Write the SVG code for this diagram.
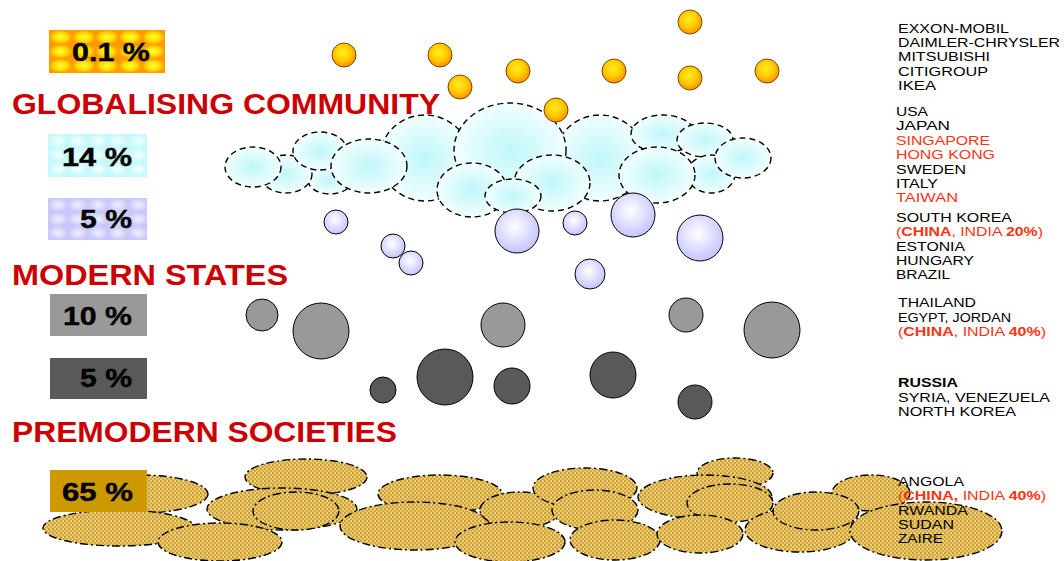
<svg xmlns="http://www.w3.org/2000/svg" width="1064" height="561" viewBox="0 0 1064 561">
<defs>
<radialGradient id="gCell"><stop offset="0" stop-color="#ffff33"/><stop offset="0.6" stop-color="#ffdd00"/><stop offset="1" stop-color="#ff9900"/></radialGradient>
<pattern id="pOrange" width="23.2" height="14.3" patternUnits="userSpaceOnUse" x="49" y="30"><rect width="23.2" height="14.3" fill="url(#gCell)"/></pattern>
<radialGradient id="gCyanCell"><stop offset="0" stop-color="#f4ffff"/><stop offset="1" stop-color="#c6f9fb"/></radialGradient>
<pattern id="pCyan" width="20" height="14" patternUnits="userSpaceOnUse" x="48" y="134"><rect width="20" height="14" fill="url(#gCyanCell)"/></pattern>
<radialGradient id="gLavCell"><stop offset="0" stop-color="#f0f0ff"/><stop offset="1" stop-color="#c8c8fb"/></radialGradient>
<pattern id="pLav" width="20" height="14" patternUnits="userSpaceOnUse" x="48" y="198"><rect width="20" height="14" fill="url(#gLavCell)"/></pattern>
<pattern id="pDots" width="4" height="4" patternUnits="userSpaceOnUse"><rect width="4" height="4" fill="#e6c66e"/><circle cx="1" cy="1" r="0.9" fill="#c08a10"/><circle cx="3" cy="3" r="0.9" fill="#cf9c22"/><circle cx="3" cy="1" r="0.55" fill="#fff3d0"/></pattern>
<radialGradient id="gGold" cx="0.45" cy="0.4" r="0.6"><stop offset="0" stop-color="#ffee22"/><stop offset="0.55" stop-color="#ffcc00"/><stop offset="1" stop-color="#ff9000"/></radialGradient>
<radialGradient id="gCloud"><stop offset="0" stop-color="#bff7fa"/><stop offset="1" stop-color="#f2fefe"/></radialGradient>
<radialGradient id="gLavBall" cx="0.45" cy="0.4" r="0.6"><stop offset="0" stop-color="#ffffff"/><stop offset="1" stop-color="#c4c4ff"/></radialGradient>
</defs>
<style>
.title{font-family:"Liberation Sans",Arial,sans-serif;font-weight:bold;font-size:29px;fill:#cc0000}
.pct{font-family:"Liberation Sans",Arial,sans-serif;font-weight:bold;font-size:25px;fill:#000;stroke:#000;stroke-width:0.4}
.lst{font-family:"Liberation Sans",Arial,sans-serif;font-size:13.5px;fill:#000}
.red{fill:#ff3311}
.b{font-weight:bold}
.gold{fill:url(#gGold);stroke:#7a4a00;stroke-width:1}
.cloud{fill:url(#gCloud);stroke:#000;stroke-width:1.4;stroke-dasharray:6 4}
.lav{fill:url(#gLavBall);stroke:#000;stroke-width:1}
.gray{fill:#999999;stroke:#000;stroke-width:1}
.dark{fill:#595959;stroke:#000;stroke-width:1}
.sand{fill:url(#pDots);stroke:#000;stroke-width:1.4;stroke-dasharray:8 3 2 3}
</style>

<g id="cloud">
<ellipse class="cloud" cx="425" cy="158" rx="45" ry="43"/>
<ellipse class="cloud" cx="600" cy="158" rx="45" ry="43"/>
<ellipse class="cloud" cx="510" cy="150" rx="56" ry="47"/>
<ellipse class="cloud" cx="663" cy="134" rx="32" ry="19"/>
<ellipse class="cloud" cx="705" cy="140" rx="28" ry="17"/>
<ellipse class="cloud" cx="711" cy="174" rx="24" ry="19"/>
<ellipse class="cloud" cx="743" cy="158" rx="28" ry="20"/>
<ellipse class="cloud" cx="657" cy="175" rx="38" ry="28"/>
<ellipse class="cloud" cx="552" cy="183" rx="38" ry="28"/>
<ellipse class="cloud" cx="472" cy="190" rx="35" ry="27"/>
<ellipse class="cloud" cx="513" cy="196" rx="28" ry="17"/>
<ellipse class="cloud" cx="330" cy="180" rx="22" ry="14"/>
<ellipse class="cloud" cx="286" cy="174" rx="26" ry="19"/>
<ellipse class="cloud" cx="253" cy="167" rx="28" ry="20"/>
<ellipse class="cloud" cx="320" cy="151" rx="27" ry="19"/>
<ellipse class="cloud" cx="369" cy="166" rx="38" ry="27"/>
</g>

<g id="sands">
<ellipse class="sand" cx="140" cy="494" rx="68" ry="19"/>
<ellipse class="sand" cx="119" cy="528" rx="76" ry="18"/>
<ellipse class="sand" cx="306" cy="477" rx="61" ry="18"/>
<ellipse class="sand" cx="282" cy="509" rx="75" ry="21"/>
<ellipse class="sand" cx="296" cy="511" rx="43" ry="19"/>
<ellipse class="sand" cx="220" cy="542" rx="62" ry="19"/>
<ellipse class="sand" cx="440" cy="494" rx="62" ry="19"/>
<ellipse class="sand" cx="415" cy="526" rx="75" ry="24"/>
<ellipse class="sand" cx="520" cy="510" rx="40" ry="18"/>
<ellipse class="sand" cx="510" cy="542" rx="55" ry="20"/>
<ellipse class="sand" cx="585" cy="488" rx="52" ry="20"/>
<ellipse class="sand" cx="595" cy="510" rx="43" ry="20"/>
<ellipse class="sand" cx="615" cy="540" rx="45" ry="20"/>
<ellipse class="sand" cx="735" cy="473" rx="38" ry="15"/>
<ellipse class="sand" cx="705" cy="497" rx="67" ry="22"/>
<ellipse class="sand" cx="730" cy="503" rx="43" ry="19"/>
<ellipse class="sand" cx="700" cy="534" rx="43" ry="19"/>
<ellipse class="sand" cx="871" cy="493" rx="39" ry="18"/>
<ellipse class="sand" cx="800" cy="530" rx="55" ry="22"/>
<ellipse class="sand" cx="816" cy="511" rx="43" ry="19"/>
<ellipse class="sand" cx="926" cy="531" rx="76" ry="29"/>
</g>

<g id="golds">
<circle class="gold" cx="344" cy="55" r="12"/>
<circle class="gold" cx="440" cy="55" r="12"/>
<circle class="gold" cx="518" cy="71" r="12"/>
<circle class="gold" cx="614" cy="71" r="12"/>
<circle class="gold" cx="690" cy="22" r="12"/>
<circle class="gold" cx="690" cy="78" r="12"/>
<circle class="gold" cx="767" cy="71" r="12"/>
<circle class="gold" cx="460" cy="87" r="12"/>
<circle class="gold" cx="556" cy="110" r="12"/>
</g>

<g id="lavenders">
<circle class="lav" cx="336" cy="222" r="12"/>
<circle class="lav" cx="393" cy="246" r="12"/>
<circle class="lav" cx="411" cy="263" r="12"/>
<circle class="lav" cx="517" cy="231" r="22"/>
<circle class="lav" cx="575" cy="223" r="12"/>
<circle class="lav" cx="633" cy="215" r="22"/>
<circle class="lav" cx="700" cy="238" r="23"/>
<circle class="lav" cx="590" cy="274" r="15"/>
</g>

<g id="grays">
<circle class="gray" cx="262" cy="315" r="16"/>
<circle class="gray" cx="321" cy="331" r="28"/>
<circle class="gray" cx="503" cy="325" r="22"/>
<circle class="gray" cx="686" cy="315" r="17"/>
<circle class="gray" cx="772" cy="330" r="28"/>
</g>

<g id="darks">
<circle class="dark" cx="383" cy="390" r="13"/>
<circle class="dark" cx="445" cy="377" r="28"/>
<circle class="dark" cx="512" cy="386" r="18"/>
<circle class="dark" cx="613" cy="375" r="23"/>
<circle class="dark" cx="695" cy="402" r="17"/>
</g>

<g id="titles">
<text class="title" x="12" y="114" textLength="428" lengthAdjust="spacingAndGlyphs">GLOBALISING COMMUNITY</text>
<text class="title" x="12" y="285" textLength="276" lengthAdjust="spacingAndGlyphs">MODERN STATES</text>
<text class="title" x="12" y="442" textLength="385" lengthAdjust="spacingAndGlyphs">PREMODERN SOCIETIES</text>
</g>

<g id="box-01">
<rect x="49" y="30" width="116" height="43" fill="url(#pOrange)"/>
<text class="pct" x="72" y="61" textLength="78" lengthAdjust="spacingAndGlyphs">0.1 %</text>
</g>
<g id="box-14">
<rect x="48" y="134" width="99" height="43" fill="url(#pCyan)"/>
<text class="pct" x="62" y="166" textLength="70" lengthAdjust="spacingAndGlyphs">14 %</text>
</g>
<g id="box-5a">
<rect x="48" y="198" width="99" height="42" fill="url(#pLav)"/>
<text class="pct" x="80" y="228" textLength="52" lengthAdjust="spacingAndGlyphs">5 %</text>
</g>
<g id="box-10">
<rect x="50" y="294" width="97" height="42" fill="#999999"/>
<text class="pct" x="63" y="325" textLength="69" lengthAdjust="spacingAndGlyphs">10 %</text>
</g>
<g id="box-5b">
<rect x="50" y="358" width="97" height="41" fill="#595959"/>
<text class="pct" x="80" y="387" textLength="52" lengthAdjust="spacingAndGlyphs">5 %</text>
</g>
<g id="box-65">
<rect x="50" y="470" width="97" height="42" fill="#cc9900"/>
<text class="pct" x="62" y="501" textLength="71" lengthAdjust="spacingAndGlyphs">65 %</text>
</g>

<g id="list-global">
<text class="lst" x="898" y="33" textLength="111" lengthAdjust="spacingAndGlyphs">EXXON-MOBIL</text>
<text class="lst" x="898" y="47" textLength="162" lengthAdjust="spacingAndGlyphs">DAIMLER-CHRYSLER</text>
<text class="lst" x="898" y="61" textLength="92" lengthAdjust="spacingAndGlyphs">MITSUBISHI</text>
<text class="lst" x="898" y="76" textLength="90" lengthAdjust="spacingAndGlyphs">CITIGROUP</text>
<text class="lst" x="898" y="90" textLength="38" lengthAdjust="spacingAndGlyphs">IKEA</text>
</g>
<g id="list-cyan">
<text class="lst" x="896" y="116" textLength="32" lengthAdjust="spacingAndGlyphs">USA</text>
<text class="lst" x="896" y="130" textLength="54" lengthAdjust="spacingAndGlyphs">JAPAN</text>
<text class="lst red" x="896" y="145" textLength="94" lengthAdjust="spacingAndGlyphs">SINGAPORE</text>
<text class="lst red" x="896" y="159" textLength="99" lengthAdjust="spacingAndGlyphs">HONG KONG</text>
<text class="lst" x="896" y="174" textLength="70" lengthAdjust="spacingAndGlyphs">SWEDEN</text>
<text class="lst" x="896" y="188" textLength="42" lengthAdjust="spacingAndGlyphs">ITALY</text>
<text class="lst red" x="896" y="202" textLength="62" lengthAdjust="spacingAndGlyphs">TAIWAN</text>
</g>
<g id="list-lav">
<text class="lst" x="896" y="222" textLength="116" lengthAdjust="spacingAndGlyphs">SOUTH KOREA</text>
<text class="lst red" x="896" y="236" textLength="147" lengthAdjust="spacingAndGlyphs">(<tspan class="b">CHINA</tspan>, INDIA <tspan class="b">20%</tspan>)</text>
<text class="lst" x="896" y="251" textLength="69" lengthAdjust="spacingAndGlyphs">ESTONIA</text>
<text class="lst" x="896" y="265" textLength="78" lengthAdjust="spacingAndGlyphs">HUNGARY</text>
<text class="lst" x="896" y="279" textLength="54" lengthAdjust="spacingAndGlyphs">BRAZIL</text>
</g>
<g id="list-gray">
<text class="lst" x="898" y="307" textLength="78" lengthAdjust="spacingAndGlyphs">THAILAND</text>
<text class="lst" x="898" y="322" textLength="113" lengthAdjust="spacingAndGlyphs">EGYPT, JORDAN</text>
<text class="lst red" x="898" y="336" textLength="148" lengthAdjust="spacingAndGlyphs">(<tspan class="b">CHINA</tspan>, INDIA <tspan class="b">40%</tspan>)</text>
</g>
<g id="list-dark">
<text class="lst b" x="898" y="387" textLength="60" lengthAdjust="spacingAndGlyphs">RUSSIA</text>
<text class="lst" x="898" y="402" textLength="152" lengthAdjust="spacingAndGlyphs">SYRIA, VENEZUELA</text>
<text class="lst" x="898" y="416" textLength="118" lengthAdjust="spacingAndGlyphs">NORTH KOREA</text>
</g>
<g id="list-sand">
<text class="lst" x="898" y="486" textLength="66" lengthAdjust="spacingAndGlyphs">ANGOLA</text>
<text class="lst red" x="898" y="500" textLength="148" lengthAdjust="spacingAndGlyphs">(<tspan class="b">CHINA,</tspan> INDIA <tspan class="b">40%</tspan>)</text>
<text class="lst" x="898" y="515" textLength="70" lengthAdjust="spacingAndGlyphs">RWANDA</text>
<text class="lst" x="898" y="529" textLength="56" lengthAdjust="spacingAndGlyphs">SUDAN</text>
<text class="lst" x="898" y="543" textLength="45" lengthAdjust="spacingAndGlyphs">ZAIRE</text>
</g>
</svg>
